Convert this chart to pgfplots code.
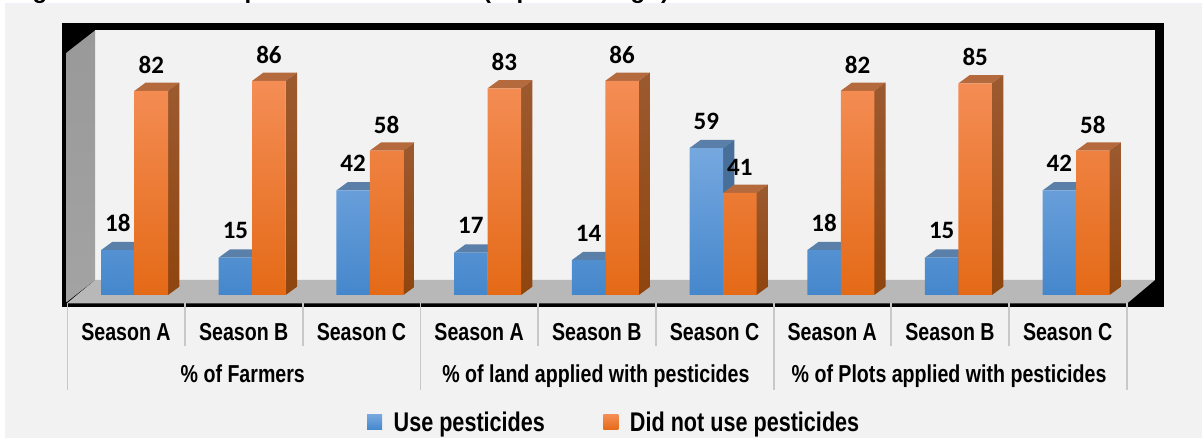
\documentclass[border=0pt]{standalone}
\usepackage{fontspec}
\setmainfont{Liberation Sans}
\newfontfamily\narrowb[FakeStretch=0.8]{Liberation Sans}
\newfontfamily\calib{Carlito}
\usepackage{pgfplots}
\pgfplotsset{compat=1.18}

\definecolor{panel}{HTML}{F2F2F2}
\definecolor{sepgray}{HTML}{C8C8C8}
\definecolor{bluetop}{HTML}{76A8DF}
\definecolor{bluemid}{HTML}{5A9BDB}
\definecolor{bluebot}{HTML}{4587CC}
\definecolor{orangetop}{HTML}{F48D55}
\definecolor{orangemid}{HTML}{F97C24}
\definecolor{orangebot}{HTML}{E46A17}
\definecolor{blueface}{HTML}{5A80A9}
\definecolor{blueside}{HTML}{476F99}
\definecolor{orangeface}{HTML}{B56A3E}
\definecolor{orangesidea}{HTML}{9C5A30}
\definecolor{orangesideb}{HTML}{8F450E}

% front faces, top to bottom
\tikzset{
  bluefront/.style={top color=bluetop,middle color=bluemid,bottom color=bluebot,draw=none},
  orangefront/.style={top color=orangetop,middle color=orangemid,bottom color=orangebot,draw=none},
  barlabel/.style={anchor=center,text=black,font=\calib\bfseries\fontsize{25}{25}\selectfont},
  grouplabel/.style={anchor=base,font=\narrowb\bfseries\fontsize{24.5}{25}\selectfont},
}

% depth of the fake 3D: 11.3px across, 8.3px up
\newcommand{\dx}{0.096}
\newcommand{\dy}{3.33}
\newcommand{\hw}{0.2846}

% #1 category, #2 value, #3 left edge offset, #4 top face colour, #5 #6 side face colours
\newcommand{\barfaces}[6]{%
  \pgfmathsetmacro{\xa}{#1+#3}%
  \pgfmathsetmacro{\xb}{\xa+\hw}%
  \pgfmathsetmacro{\xc}{\xb+\dx}%
  \pgfmathsetmacro{\xd}{\xa+\dx}%
  \pgfmathsetmacro{\ya}{#2+\dy}%
  \addplot[fill=#4,draw=none,forget plot] coordinates {(\xa,#2)(\xb,#2)(\xc,\ya)(\xd,\ya)(\xa,#2)};
  \addplot[top color=#5,bottom color=#6,draw=none,forget plot] coordinates {(\xb,#2)(\xc,\ya)(\xc,\dy)(\xb,0)(\xb,#2)};
}
\newcommand{\bluefaces}[2]{\barfaces{#1}{#2}{-\hw}{blueface}{blueside}{blueside}}
\newcommand{\orangefaces}[2]{\barfaces{#1}{#2}{0}{orangeface}{orangesidea}{orangesideb}}

\begin{document}
\begin{tikzpicture}
\useasboundingbox (0,0) rectangle (1202pt,438pt);

% panel, frame, walls and floor, in pixels from the top left
\begin{scope}[x=1pt,y=-1pt,shift={(0,438pt)}]
  \fill[white] (0,0) rectangle (1202,438);
  \fill[panel,draw=black!12!blue!5!white,line width=1pt] (5,4) rectangle (1210,445);
  \fill[black] (62,23) rectangle (1164,307);
  \fill[panel] (95,30.5) rectangle (1155,280);
  \shade[top color=black!40,bottom color=black!36] (66.7,52.5) -- (95,30.5) -- (95,280) -- (66.7,302) -- cycle;
  \fill[black!28] (95,280) -- (1155,280) -- (1127,303.5) -- (66.7,303.5) -- cycle;
  \begin{scope}
    \clip (0,0) rectangle (1202,438);
    \foreach \x/\t in {40/g,252/p,487/(,524/p,638/g,665/)}
      \node[anchor=base,inner sep=0pt,font=\bfseries\fontsize{24}{24}\selectfont] at (\x,-1) {\t};
  \end{scope}
  % category separators
  \foreach \i in {0,...,9} {
    \draw[sepgray,line width=1.8pt] (67.4+117.7*\i,303.5) -- (67.4+117.7*\i,346);
  }
  \foreach \i in {0,3,6,9} {
    \draw[sepgray,line width=1.8pt] (67.4+117.7*\i,346) -- (67.4+117.7*\i,390);
  }
\end{scope}

\begin{axis}[
  scale only axis,
  width=1202pt,height=438pt,
  at={(0,0)},anchor=south west,
  xmin=-1.1427,xmax=9.0697,
  ymin=-57.43,ymax=118.47,
  axis line style={draw=none},
  major tick length=0pt,
  ytick=\empty,
  xtick={0,...,8},
  xticklabels={Season A,Season B,Season C,Season A,Season B,Season C,Season A,Season B,Season C},
  x tick label style={anchor=center,xshift=-8.5pt,yshift=106pt,
    font=\narrowb\bfseries\fontsize{24.5}{25}\selectfont},
  clip=false,
  /pgf/number format/assume math mode=true,
  legend columns=2,
  legend style={at={(367pt,3pt)},anchor=south west,draw=none,fill=none,inner sep=0pt,
    font=\narrowb\bfseries\fontsize{27}{27}\selectfont,
    /tikz/every even column/.append style={column sep=56.5pt}},
  legend cell align=left,
]

% blue bars
\bluefaces{0}{18}
\bluefaces{1}{15}
\bluefaces{2}{42}
\bluefaces{3}{17}
\bluefaces{4}{14}
\bluefaces{5}{59}
\bluefaces{6}{18}
\bluefaces{7}{15}
\bluefaces{8}{42}
\addplot[ybar,bar width=33.5pt,bar shift=-16.75pt,bluefront,
  nodes near coords={\pgfmathprintnumber{\pgfplotspointmeta}},
  every node near coord/.append style={barlabel,xshift=-16.75pt,yshift=27pt},
  area legend,
  legend image code/.code={\shade[bluefront] (0pt,-7.5pt) rectangle (15pt,7.5pt);\path (0pt,0pt) -- (24.5pt,0pt);}]
  coordinates {(0,18)(1,15)(2,42)(3,17)(4,14)(5,59)(6,18)(7,15)(8,42)};
\addlegendentry{Use pesticides}

% orange bars
\orangefaces{0}{82}
\orangefaces{1}{86}
\orangefaces{2}{58}
\orangefaces{3}{83}
\orangefaces{4}{86}
\orangefaces{5}{41}
\orangefaces{6}{82}
\orangefaces{7}{85}
\orangefaces{8}{58}
\addplot[ybar,bar width=33.5pt,bar shift=16.75pt,orangefront,
  nodes near coords={\pgfmathprintnumber{\pgfplotspointmeta}},
  every node near coord/.append style={barlabel,xshift=16.75pt,yshift=26pt},
  area legend,
  legend image code/.code={\shade[orangefront] (0pt,-7.5pt) rectangle (15pt,7.5pt);\path (0pt,0pt) -- (24.5pt,0pt);}]
  coordinates {(0,82)(1,86)(2,58)(3,83)(4,86)(5,41)(6,82)(7,85)(8,58)};
\addlegendentry{Did not use pesticides}

% group names under the seasons
\node[grouplabel] at (axis cs:0.92,-35.3) {\% of Farmers};
\node[grouplabel] at (axis cs:3.92,-35.3) {\% of land applied with pesticides};
\node[grouplabel] at (axis cs:6.92,-35.3) {\% of Plots applied with pesticides};
\end{axis}
\end{tikzpicture}
\end{document}
